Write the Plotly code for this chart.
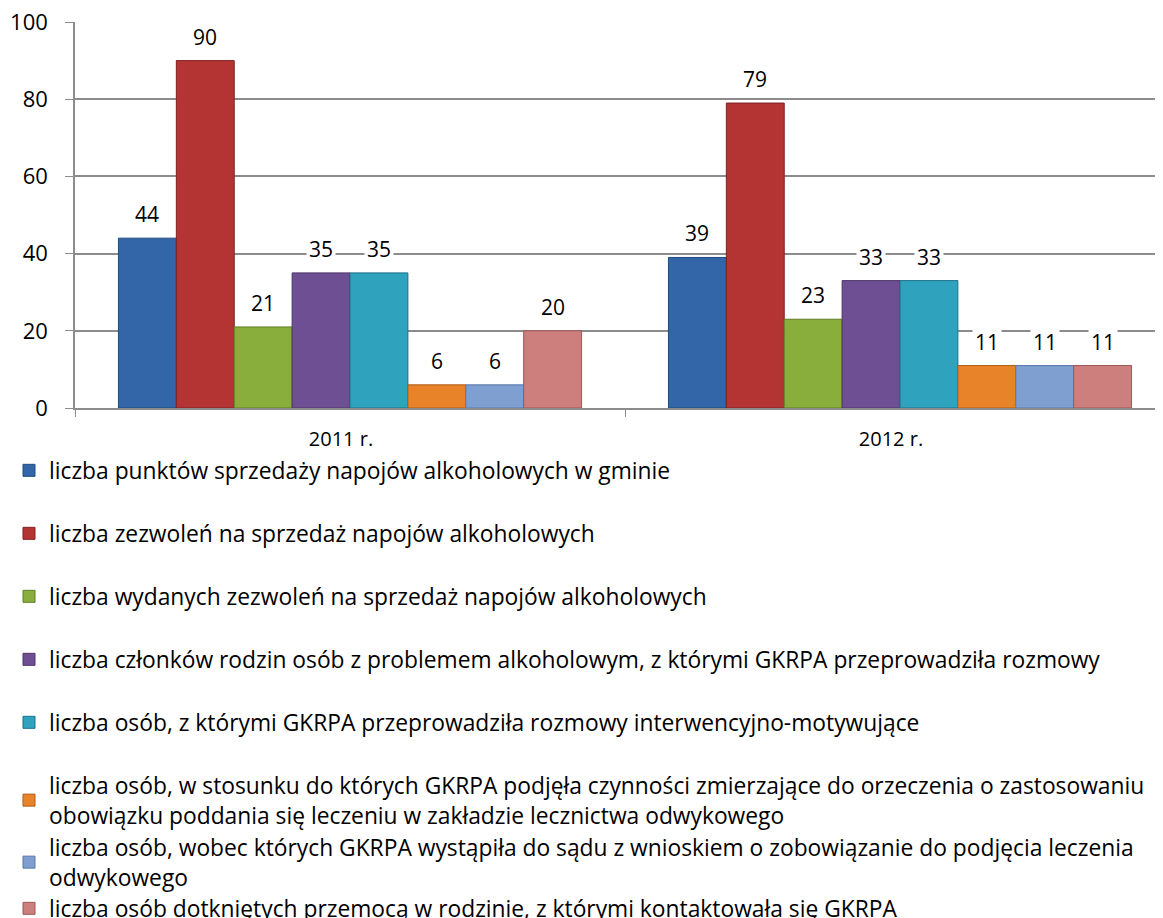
import plotly.graph_objects as go

categories = ["2011 r.", "2012 r."]
series_names = [
    "liczba punktów sprzedaży napojów alkoholowych w gminie",
    "liczba zezwoleń na sprzedaż napojów alkoholowych",
    "liczba wydanych zezwoleń na sprzedaż napojów alkoholowych",
    "liczba członków rodzin osób z problemem alkoholowym, z którymi GKRPA przeprowadziła rozmowy",
    "liczba osób, z którymi GKRPA przeprowadziła rozmowy interwencyjno-motywujące",
    "liczba osób, w stosunku do których GKRPA podjęła czynności zmierzające do orzeczenia o zastosowaniu<br>obowiązku poddania się leczeniu w zakładzie lecznictwa odwykowego",
    "liczba osób, wobec których GKRPA wystąpiła do sądu z wnioskiem o zobowiązanie do podjęcia leczenia<br>odwykowego",
    "liczba osób dotkniętych przemocą w rodzinie, z którymi kontaktowała się GKRPA",
]
values_2011 = [44, 90, 21, 35, 35, 6, 6, 20]
values_2012 = [39, 79, 23, 33, 33, 11, 11, 11]
colors = ["#3366a8", "#b33432", "#8aae3c", "#6f4f94", "#2fa2bd", "#e8832a", "#7f9fd0", "#cd7f7e"]
edge_colors = ["#1f4a80", "#7e2020", "#5f7d25", "#4c3468", "#1d7088", "#b05d14", "#5a78a8", "#9c5656"]
legend_centers_px = [470, 533, 596, 659, 722, 785, 847, 908]

FONT = "'Open Sans', sans-serif"
bargap = 0.158
n = len(series_names)
PAGE_OFFSET = 8  # default body margin of the html page

fig = go.Figure()
for i, name in enumerate(series_names):
    fig.add_trace(go.Bar(
        x=categories,
        y=[values_2011[i], values_2012[i]],
        name=name,
        marker=dict(color=colors[i], line=dict(color=edge_colors[i], width=1)),
        legend="legend" if i == 0 else f"legend{i+1}",
        showlegend=True,
    ))

# data labels with white background (as in the original)
annotations = []
w = (1 - bargap) / n
for i in range(n):
    for j, vals in enumerate([values_2011, values_2012]):
        xpos = j - 0.5 + bargap / 2 + (i + 0.5) * w
        annotations.append(dict(
            x=xpos, y=vals[i], xref="x", yref="y",
            text=str(vals[i]), showarrow=False,
            yanchor="bottom", yshift=7,
            bgcolor="white", borderpad=2,
            font=dict(family=FONT, size=21, color="#000000"),
        ))

layout_legends = {}
for i, c in enumerate(legend_centers_px):
    key = "legend" if i == 0 else f"legend{i+1}"
    layout_legends[key] = dict(
        xref="container", yref="container",
        x=1 / 1163, y=1 - (c - 29) / 918,
        xanchor="left", yanchor="top",
        bgcolor="rgba(0,0,0,0)",
        font=dict(family=FONT, size=22.8, color="#000000"),
        itemclick=False, itemdoubleclick=False,
    )

left = 75 - PAGE_OFFSET
plot_w = 1163 - left
fig.update_layout(
    width=1163, height=918,
    paper_bgcolor="white", plot_bgcolor="white",
    margin=dict(l=left, r=0, t=22 - PAGE_OFFSET, b=918 - (408 - PAGE_OFFSET), autoexpand=False),
    barmode="group", bargap=bargap, bargroupgap=0,
    font=dict(family=FONT, size=20, color="#000000"),
    annotations=annotations,
    xaxis=dict(
        type="category",
        range=[-0.5, -0.5 + plot_w / 550],
        tickson="boundaries",
        ticks="outside", ticklen=7, tickcolor="#8c8c8c", tickwidth=1,
        showline=True, linecolor="#8c8c8c", linewidth=1.5,
        showgrid=False,
        tickfont=dict(family=FONT, size=20, color="#000000"),
        ticklabelshift=-9,
        ticklabelstandoff=12,
    ),
    yaxis=dict(
        range=[0, 100], dtick=20,
        ticks="outside", ticklen=8, tickcolor="#8c8c8c", tickwidth=1,
        showline=True, linecolor="#8c8c8c", linewidth=1.5,
        showgrid=True, gridcolor="#8c8c8c", gridwidth=1.5,
        zeroline=False,
        tickfont=dict(family=FONT, size=22, color="#000000"),
        ticklabelstandoff=13,
        ticklabeloverflow="allow",
    ),
    **layout_legends,
)

fig.write_html("out.html")
